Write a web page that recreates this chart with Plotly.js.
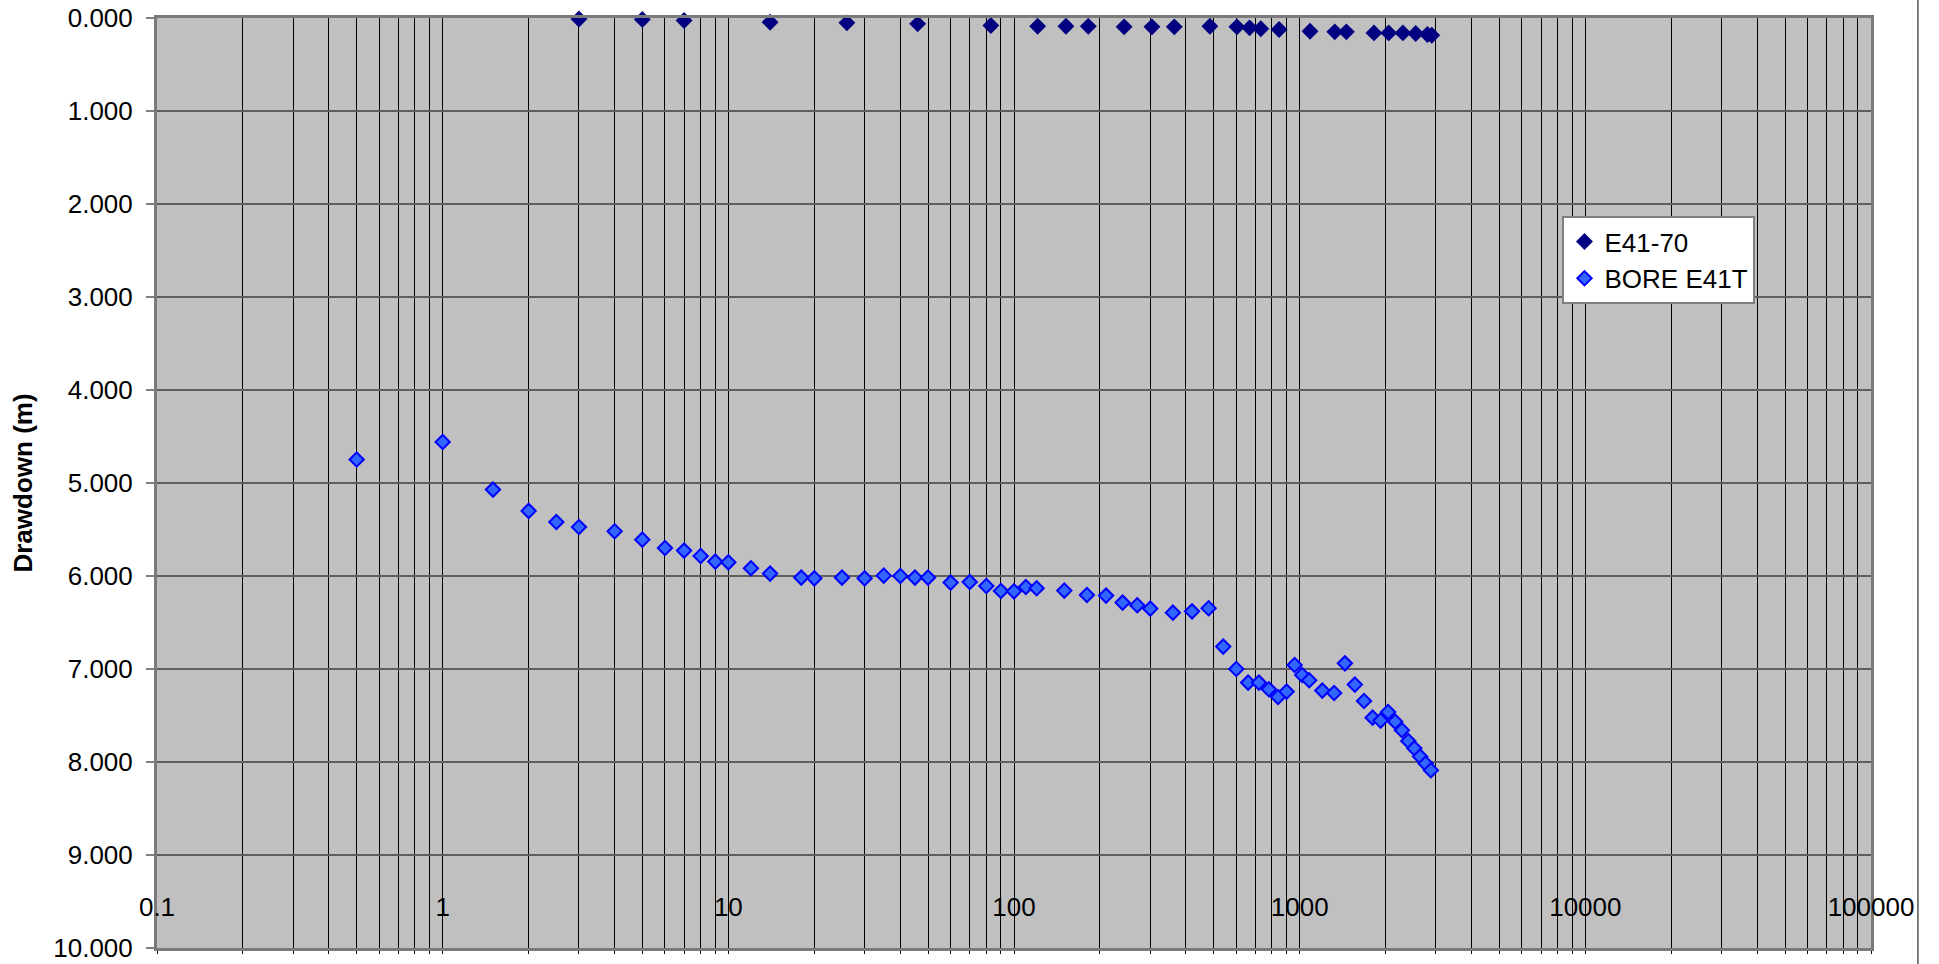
<!DOCTYPE html>
<html>
<head>
<meta charset="utf-8">
<script src="https://cdn.plot.ly/plotly-3.0.1.min.js"></script>
<style>
html,body{margin:0;padding:0;background:#fff;}
#chart{width:1939px;height:964px;}
</style>
</head>
<body>
<div id="chart"></div>
<script>
// Series E41-70 (observation bore)
var e41Time = [3,5,7,14,26,46,83,121,152,182,243,304,364,485,603,668,731,847,1087,1327,1457,1820,2050,2298,2548,2800,2900];
var e41Drawdown = [0.01,0.016,0.027,0.045,0.052,0.063,0.081,0.088,0.088,0.088,0.095,0.095,0.095,0.088,0.095,0.106,0.116,0.124,0.142,0.149,0.149,0.16,0.16,0.16,0.167,0.177,0.185];

// Series BORE E41T (pumped bore)
var boreTime = [0.5,1,1.5,2,2.5,3,4,5,6,7,8,9,10,12,14,18,20,25,30,35,40,45,50,60,70,80,90,100,110,120,150,180,210,240,270,300,360,420,480,540,600,660,720,780,840,900,960,1020,1080,1200,1320,1440,1560,1680,1800,1920,2040,2160,2280,2400,2520,2640,2760,2880];
var boreDrawdown = [4.748,4.559,5.071,5.30,5.419,5.473,5.519,5.609,5.699,5.727,5.785,5.845,5.853,5.917,5.974,6.017,6.025,6.017,6.025,5.996,6.0,6.017,6.017,6.071,6.064,6.107,6.161,6.165,6.118,6.132,6.157,6.204,6.211,6.286,6.315,6.351,6.394,6.380,6.347,6.759,7.0,7.146,7.146,7.218,7.301,7.243,6.957,7.064,7.121,7.232,7.258,6.939,7.168,7.344,7.523,7.555,7.462,7.566,7.659,7.774,7.853,7.942,8.017,8.089];

var seriesNames = ["E41-70", "BORE E41T"];
var yTitle = "Drawdown (m)";

var font = "Arial, 'Liberation Sans', sans-serif";

var traces = [
  {
    x: e41Time, y: e41Drawdown, name: seriesNames[0],
    type: "scatter", mode: "markers", cliponaxis: false,
    marker: {symbol: "diamond", size: 13, color: "#000080", line: {width: 0}}
  },
  {
    x: boreTime, y: boreDrawdown, name: seriesNames[1],
    type: "scatter", mode: "markers", cliponaxis: false,
    marker: {symbol: "diamond", size: 11, color: "#3366ff", line: {width: 2, color: "#0000ff"}}
  }
];

var layout = {
  width: 1939, height: 964,
  margin: {l: 157, r: 68, t: 18, b: 16},
  paper_bgcolor: "#ffffff",
  plot_bgcolor: "#c0c0c0",
  font: {family: font, size: 26, color: "#000"},
  showlegend: true,
  legend: {
    x: 0.82, y: 0.787, xanchor: "left", yanchor: "top",
    bgcolor: "#ffffff", bordercolor: "#808080", borderwidth: 2,
    font: {family: font, size: 26, color: "#000"},
    itemwidth: 30
  },
  xaxis: {
    type: "log", range: [-1, 5], dtick: 1,
    tickformat: "~g",
    showgrid: true, gridcolor: "#000000", gridwidth: 1,
    showline: true, linecolor: "#7a7a7a", linewidth: 3, mirror: true,
    ticks: "outside", ticklen: 3, tickcolor: "#000",
    ticklabelposition: "inside", ticklabeloverflow: "allow",
    ticklabelstandoff: 29,
    tickfont: {family: font, size: 26, color: "#000"},
    minor: {dtick: "D1", showgrid: true, gridcolor: "#000000", gridwidth: 1, ticks: "outside", ticklen: 3, tickcolor: "#000"},
    zeroline: false
  },
  yaxis: {
    range: [10, 0], dtick: 1, tickformat: ".3f",
    showgrid: true, gridcolor: "#5e5e5e", gridwidth: 2,
    showline: true, linecolor: "#7a7a7a", linewidth: 3, mirror: true,
    ticks: "outside", ticklen: 8, tickcolor: "#808080", tickwidth: 2,
    ticklabelstandoff: 8,
    tickfont: {family: font, size: 26, color: "#000"},
    title: {text: yTitle, font: {family: font, size: 26, color: "#000", weight: "bold"}, standoff: 14},
    zeroline: false
  },
  shapes: [
    {type: "line", xref: "paper", yref: "paper", x0: 1.0274, x1: 1.0274, y0: -0.05, y1: 1.05,
     line: {color: "#000", width: 1}}
  ]
};

Plotly.newPlot("chart", traces, layout, {displayModeBar: false, staticPlot: true});
</script>
</body>
</html>
